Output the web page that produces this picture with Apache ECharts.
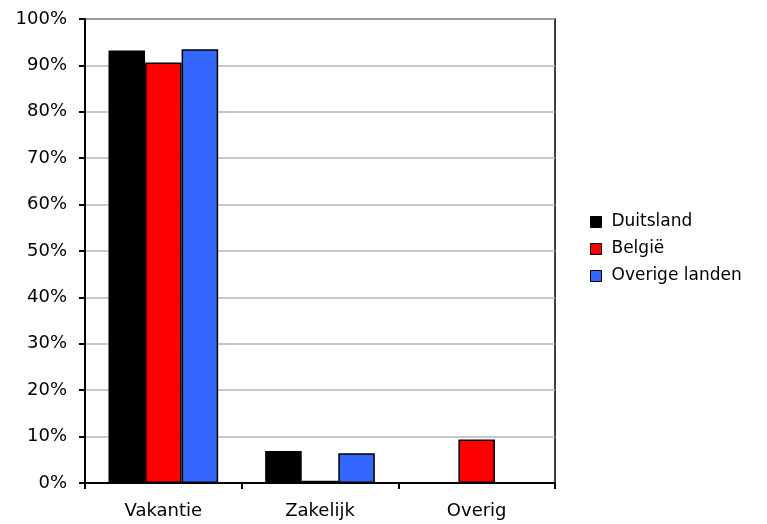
<!DOCTYPE html>
<html>
<head>
<meta charset="utf-8">
<script src="https://cdn.jsdelivr.net/npm/echarts@6/dist/echarts.min.js"></script>
<style>
  html, body { margin: 0; padding: 0; background: #fff; }
  #chart { width: 767px; height: 524px; }
</style>
</head>
<body>
<div id="chart"></div>
<script>
// data
var categories = ['Vakantie', 'Zakelijk', 'Overig'];
var duitsland = [93.2, 6.9, 0];
var belgie = [90.6, 0.5, 9.4];
var overig = [93.5, 6.4, 0];
var seriesNames = ['Duitsland', 'België', 'Overige landen'];
var colors = ['#000000', '#ff0000', '#3366ff'];

(function () {
  var chart = echarts.init(document.getElementById('chart'));
  var font = '"DejaVu Sans", sans-serif';
  var values = [duitsland, belgie, overig];

  var series = seriesNames.map(function (name, i) {
    return {
      name: name,
      type: 'bar',
      data: values[i],
      barGap: '0%',
      barCategoryGap: '30%',
      itemStyle: { color: colors[i], borderColor: '#000', borderWidth: 1.5 }
    };
  });

  var option = {
    animation: false,
    color: colors,
    textStyle: { fontFamily: font },
    grid: {
      left: 85, top: 19, width: 470, height: 464,
      show: true, borderColor: '#000', borderWidth: 1.5
    },
    legend: {
      orient: 'vertical',
      left: 585, top: 208,
      itemWidth: 11, itemHeight: 11,
      itemGap: 9,
      icon: 'rect',
      textStyle: { fontSize: 17, lineHeight: 18, color: '#000', fontFamily: font, padding: [0, 0, 0, 5] },
      itemStyle: { borderColor: '#000', borderWidth: 1 }
    },
    xAxis: {
      type: 'category',
      data: categories,
      axisLine: { lineStyle: { color: '#000', width: 2 } },
      axisTick: { show: true, length: 6, lineStyle: { color: '#000', width: 2 } },
      axisLabel: { fontSize: 18, color: '#000', margin: 19, fontFamily: font }
    },
    yAxis: {
      type: 'value',
      min: 0, max: 100, interval: 10,
      axisLine: { show: true, lineStyle: { color: '#000', width: 2 } },
      axisTick: { show: true, length: 6, lineStyle: { color: '#000', width: 2 } },
      axisLabel: { fontSize: 18, color: '#000', margin: 18, formatter: '{value}%', fontFamily: font },
      splitLine: { lineStyle: { color: '#b4b4b4', width: 1.5 } }
    },
    series: series
  };
  chart.setOption(option);
})();
</script>
</body>
</html>
